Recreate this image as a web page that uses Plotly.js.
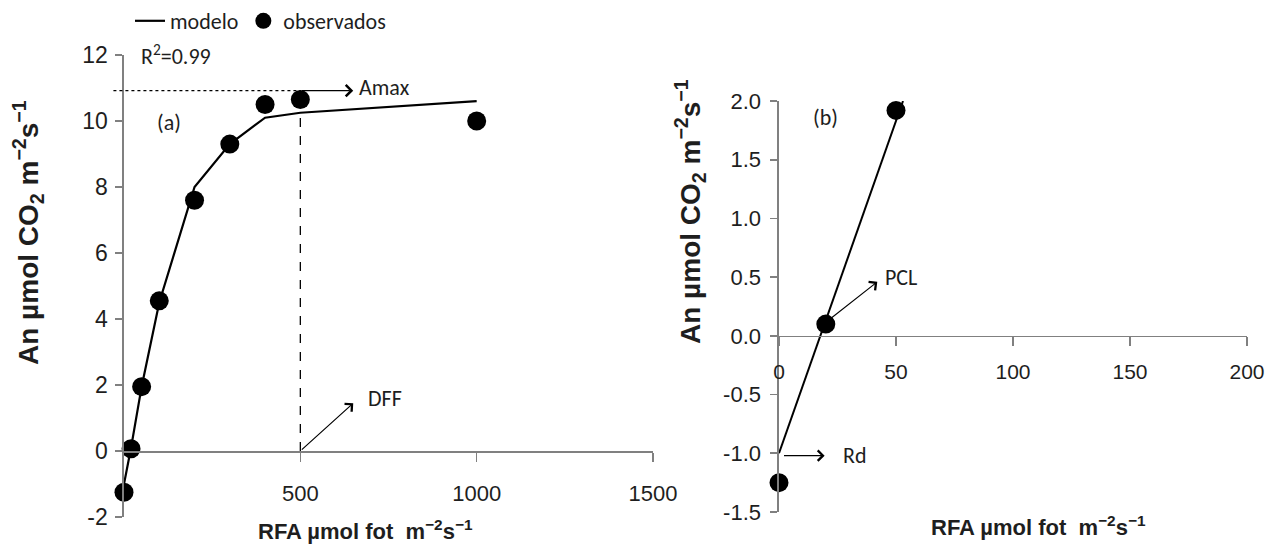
<!DOCTYPE html>
<html><head><meta charset="utf-8">
<script src="https://cdn.plot.ly/plotly-3.0.1.min.js"></script>
<style>html,body{margin:0;padding:0;background:#fff}#chart{width:1280px;height:554px}</style>
</head><body><div id="chart"></div>
<script>
// ---- data ----
const rfaA = [0, 20, 50, 100, 200, 300, 400, 500, 1000];
const obsA = [-1.25, 0.07, 1.95, 4.55, 7.6, 9.3, 10.5, 10.65, 10.0];
const modelA = [-1.0, 0.1, 1.95, 4.5, 8.0, 9.3, 10.1, 10.25, 10.6];
const rfaB = [0, 20, 50];
const obsB = [-1.25, 0.1, 1.92];
const modelRfaB = [0, 53];
const modelB = [-1.0, 2.0];
const AMAX = 10.92;
const DFF = 500;
const RD = -1.0;
const PCL = 19;
const R2 = '0.99';
const xTickValsA = [500, 1000, 1500];
const xTickTextA = ['500', '1000', '1500'];
const yTickValsA = [-2, 0, 2, 4, 6, 8, 10, 12];
const yTickTextA = ['-2', '0', '2', '4', '6', '8', '10', '12'];
const xTickValsB = [0, 50, 100, 150, 200];
const xTickTextB = ['0', '50', '100', '150', '200'];
const yTickValsB = [-1.5, -1.0, -0.5, 0.0, 0.5, 1.0, 1.5, 2.0];
const yTickTextB = ['-1.5', '-1.0', '-0.5', '0.0', '0.5', '1.0', '1.5', '2.0'];

// ---- layout ----
const W = 1280, H = 554;
const NARROW = '"Liberation Sans Narrow", "Arial Narrow", "Liberation Sans", Arial, sans-serif';
const BOLD = '"Liberation Sans", Arial, sans-serif';
const CAL = 'Carlito, Roboto, "Open Sans", sans-serif';
const AX = '#808080';
const TXT = '#1e1e1e';

const xRangeA = [0, 1500], yRangeA = [-2, 12];
const xRangeB = [0, 200], yRangeB = [-1.5, 2.0];
const xDomA = [124 / W, 653 / W], yDomA = [37 / H, 499 / H];
const xDomB = [779 / W, 1247 / W], yDomB = [42 / H, 453 / H];
const zeroPos = (dom, rng) => dom[0] + (0 - rng[0]) / (rng[1] - rng[0]) * (dom[1] - dom[0]);

const traces = [
  {x: rfaA, y: modelA, xaxis: 'x', yaxis: 'y', mode: 'lines', name: 'modelo',
   line: {color: '#000', width: 2.2}},
  {x: rfaA, y: obsA, xaxis: 'x', yaxis: 'y', mode: 'markers', name: 'observados',
   marker: {color: '#000', size: 19}, cliponaxis: false},
  {x: modelRfaB, y: modelB, xaxis: 'x2', yaxis: 'y2', mode: 'lines', showlegend: false,
   line: {color: '#000', width: 2}},
  {x: rfaB, y: obsB, xaxis: 'x2', yaxis: 'y2', mode: 'markers', showlegend: false,
   marker: {color: '#000', size: 19}, cliponaxis: false}
];

function xAxis(dom, rng, yrng, ydom, vals, text, size, standoff) {
  return {domain: dom, range: rng, anchor: 'free', position: zeroPos(ydom, yrng),
    showline: true, linecolor: AX, linewidth: 1.6, ticks: 'outside', ticklen: 9,
    tickcolor: AX, tickwidth: 1.6, tickmode: 'array', tickvals: vals, ticktext: text,
    showgrid: false, zeroline: false, ticklabelstandoff: standoff,
    tickfont: {family: NARROW, size: size, color: TXT}};
}
function yAxis(dom, rng, xa, vals, text, size, standoff) {
  return {domain: dom, range: rng, anchor: xa, showline: true, linecolor: AX, linewidth: 1.6,
    ticks: 'outside', ticklen: 7, tickcolor: AX, tickwidth: 1.6, tickmode: 'array',
    tickvals: vals, ticktext: text, showgrid: false, zeroline: false,
    ticklabelstandoff: standoff, tickfont: {family: NARROW, size: size, color: TXT}};
}

const yTitle = 'An µmol CO<sub>2</sub> m<sup>−2</sup>s<sup>−1</sup>';
const xTitle = 'RFA µmol fot  m<sup>−2</sup>s<sup>−1</sup>';
const calFont = {family: CAL, size: 22, color: TXT};

const annotations = [
  // axis titles
  {text: yTitle, xref: 'paper', yref: 'paper', x: 28 / W, y: 1 - 233 / H, textangle: -90,
   xanchor: 'center', yanchor: 'middle',
   showarrow: false, font: {family: BOLD, size: 28, color: TXT, weight: 'bold'}},
  {text: yTitle, xref: 'paper', yref: 'paper', x: 690 / W, y: 1 - 212 / H, textangle: -90,
   xanchor: 'center', yanchor: 'middle',
   showarrow: false, font: {family: BOLD, size: 28, color: TXT, weight: 'bold'}},
  {text: xTitle, xref: 'paper', yref: 'paper', x: 365 / W, y: 1 - 530 / H,
   xanchor: 'center', yanchor: 'middle',
   showarrow: false, font: {family: NARROW, size: 22, color: TXT, weight: 'bold'}},
  {text: xTitle, xref: 'paper', yref: 'paper', x: 1038 / W, y: 1 - 526 / H,
   xanchor: 'center', yanchor: 'middle',
   showarrow: false, font: {family: NARROW, size: 22, color: TXT, weight: 'bold'}},
  // panel (a)
  {text: 'R<sup>2</sup>=' + R2, xref: 'x', yref: 'y', x: 42, y: 12, xanchor: 'left',
   showarrow: false, font: calFont},
  {text: '(a)', xref: 'x', yref: 'y', x: 127, y: 9.95, showarrow: false, font: calFont},
  {text: '', xref: 'x', yref: 'y', axref: 'x', ayref: 'y', x: 650, y: AMAX, ax: DFF, ay: AMAX,
   showarrow: true, arrowhead: 4, arrowsize: 1.7, arrowwidth: 1.3, arrowcolor: '#000', standoff: 0},
  {text: 'Amax', xref: 'x', yref: 'y', x: 662, y: AMAX + 0.08, xanchor: 'left',
   showarrow: false, font: calFont},
  {text: '', xref: 'x', yref: 'y', axref: 'x', ayref: 'y', x: 650, y: 1.45, ax: DFF, ay: 0,
   showarrow: true, arrowhead: 4, arrowsize: 1.7, arrowwidth: 1.2, arrowcolor: '#000', standoff: 0},
  {text: 'DFF', xref: 'x', yref: 'y', x: 685, y: 1.6, xanchor: 'left',
   showarrow: false, font: calFont},
  // panel (b)
  {text: 'R<sup>2</sup>=' + R2, xref: 'x2', yref: 'y2', x: 9, y: 2.28, xanchor: 'left',
   showarrow: false, font: calFont},
  {text: '(b)', xref: 'x2', yref: 'y2', x: 20, y: 1.86, showarrow: false, font: calFont},
  {text: '', xref: 'x2', yref: 'y2', axref: 'x2', ayref: 'y2', x: 42, y: 0.46, ax: PCL, ay: 0.1,
   showarrow: true, arrowhead: 4, arrowsize: 1.7, arrowwidth: 1.2, arrowcolor: '#000', standoff: 0},
  {text: 'PCL', xref: 'x2', yref: 'y2', x: 44.5, y: 0.5, xanchor: 'left',
   showarrow: false, font: calFont},
  {text: '', xref: 'x2', yref: 'y2', axref: 'x2', ayref: 'y2', x: 19.5, y: RD - 0.02, ax: 1.5, ay: RD - 0.02,
   showarrow: true, arrowhead: 4, arrowsize: 1.7, arrowwidth: 1.2, arrowcolor: '#000', standoff: 0},
  {text: 'Rd', xref: 'x2', yref: 'y2', x: 26.5, y: RD - 0.02, xanchor: 'left',
   showarrow: false, font: calFont}
];

const dffTop = modelA[rfaA.indexOf(DFF)];
const shapes = [
  {type: 'line', xref: 'x domain', yref: 'y', x0: -0.02,
   x1: (DFF - xRangeA[0]) / (xRangeA[1] - xRangeA[0]), y0: AMAX, y1: AMAX,
   line: {color: '#000', width: 1.3, dash: 'dot'}},
  {type: 'line', xref: 'x', yref: 'y', x0: DFF, x1: DFF, y0: 0, y1: dffTop,
   line: {color: '#000', width: 1.3, dash: 'dash'}}
];

const layout = {
  width: W, height: H, margin: {l: 0, r: 0, t: 0, b: 0},
  paper_bgcolor: '#fff', plot_bgcolor: 'rgba(0,0,0,0)',
  showlegend: true,
  legend: {orientation: 'h', x: 130 / W, xanchor: 'left', y: 1, yanchor: 'top',
    font: {family: CAL, size: 22, color: TXT}, bgcolor: 'rgba(0,0,0,0)', tracegroupgap: 0},
  xaxis: xAxis(xDomA, xRangeA, yRangeA, yDomA, xTickValsA, xTickTextA, 22, 13),
  yaxis: yAxis(yDomA, yRangeA, 'x', yTickValsA, yTickTextA, 23, 3),
  xaxis2: xAxis(xDomB, xRangeB, yRangeB, yDomB, xTickValsB, xTickTextB, 21, 7),
  yaxis2: yAxis(yDomB, yRangeB, 'x2', yTickValsB, yTickTextB, 22, 5),
  annotations: annotations,
  shapes: shapes
};

Plotly.newPlot('chart', traces, layout, {staticPlot: true, displayModeBar: false});
</script>
</body></html>
